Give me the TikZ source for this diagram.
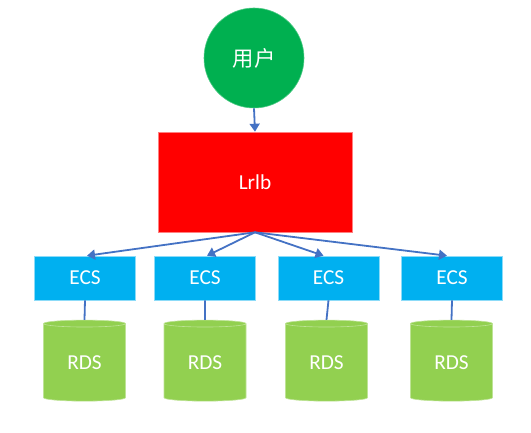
\documentclass[tikz,border=0pt]{standalone}
\usepackage{fontspec}
\setmainfont{Carlito}
\newfontfamily\cjk{Noto Sans CJK SC}
\usetikzlibrary{shapes.geometric,arrows.meta}
\definecolor{ugreen}{HTML}{00B050}
\definecolor{ured}{HTML}{FF0000}
\definecolor{ublue}{HTML}{00B0F0}
\definecolor{ulime}{HTML}{92D050}
\definecolor{uline}{HTML}{4472C4}
\tikzset{
  lbl/.style={text=white, font=\fontsize{21.3}{24}\selectfont},
  usernode/.style={circle, fill=ugreen, draw=ugreen!70!white, line width=0.6pt, minimum size=100pt, inner sep=0pt, lbl},
  lbnode/.style={rectangle, fill=ured, draw=ured!50!white, line width=0.6pt, minimum width=194pt, minimum height=100pt, inner sep=0pt, lbl},
  ecsnode/.style={rectangle, fill=ublue, draw=ublue!45!white, line width=0.6pt, minimum width=101pt, minimum height=44pt, inner sep=0pt, lbl},
  rdsnode/.style={cylinder, shape border rotate=90, aspect=0.2, fill=ulime, draw=ulime!60!white, line width=0.6pt, minimum width=82pt, minimum height=81pt, inner sep=0pt, lbl},
  conn/.style={draw=uline, line width=1.8pt},
  arr/.style={conn, -{Triangle[width=10pt,length=8pt]}},
}
\begin{document}
\begin{tikzpicture}[x=1pt,y=-1pt]
\useasboundingbox (0,0) rectangle (531,433);
\node[usernode] (user) at (254,58) {\cjk 用户};
\node[lbnode] (lb) at (255,182) {Lrlb};
\node[ecsnode] (e1) at (85,278) {ECS};
\node[ecsnode] (e2) at (205,278) {ECS};
\node[ecsnode] (e3) at (328.5,278) {ECS};
\node[ecsnode] (e4) at (452,278) {ECS};
\node[rdsnode] (r1) at (84.5,362.5) {RDS};
\node[rdsnode] (r2) at (205,362.5) {RDS};
\node[rdsnode] (r3) at (326.5,362.5) {RDS};
\node[rdsnode] (r4) at (451.5,362.5) {RDS};
\draw[arr] (user.south) -- (lb.north);
\draw[arr] (lb.south) -- ([xshift=2pt]e1.north);
\draw[arr] (lb.south) -- ([xshift=2pt]e2.north);
\draw[arr] (lb.south) -- ([xshift=-5pt]e3.north);
\draw[arr] (lb.south) -- ([xshift=-5pt]e4.north);
\draw[conn] (e1.south) -- (r1.north);
\draw[conn] (e2.south) -- (r2.north);
\draw[conn] (e3.south) -- (r3.north);
\draw[conn] (e4.south) -- (r4.north);
\end{tikzpicture}
\end{document}
